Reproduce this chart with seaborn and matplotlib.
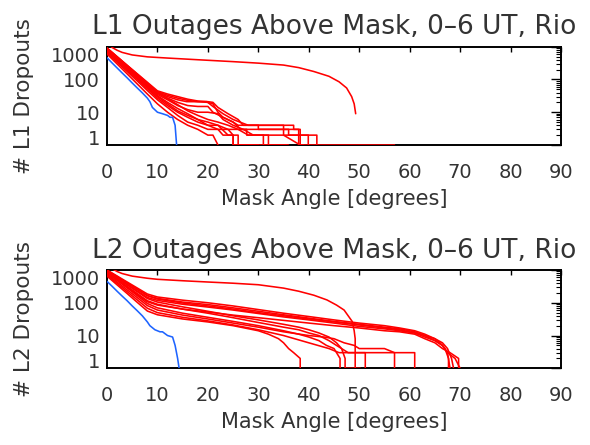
import numpy as np
import pandas as pd
import matplotlib
matplotlib.use("Agg")
import matplotlib.pyplot as plt
from matplotlib.ticker import FixedLocator, LogLocator, NullFormatter, FixedFormatter
import seaborn as sns

# ---------------- data: cumulative dropout counts above each mask angle ----------------
# L1 panel
l1_top_angle = [0, 1, 2, 3, 5, 8, 12, 18, 25, 30, 35, 38, 41, 44, 46, 47.5, 48.5, 49, 49.3]
l1_top_count = [1400, 950, 780, 670, 560, 490, 450, 400, 350, 315, 275, 230, 175, 125, 85, 55, 30, 18, 9]

l1_red_angles = [
    [0, 2, 4, 6, 8, 10, 12, 14, 16, 18, 20, 21, 22, 24, 26, 27, 30, 30, 36, 36, 41.6, 41.6, 57],
    [0, 2, 4, 6, 8, 10, 12, 14, 16, 18, 20, 21, 23, 25, 26.5, 38.3, 38.3, 40],
    [0, 2, 4, 6, 8, 10, 12, 14, 16, 18, 20, 22, 24, 27.7, 27.7, 32, 32, 36],
    [0, 2, 4, 6, 8, 10, 12, 14, 16, 18, 20, 22, 23, 25, 25, 28.7],
    [0, 2, 4, 6, 8, 10, 12, 14, 16, 18, 20, 22, 24, 26, 28, 31, 31, 35.7],
    [0, 2, 4, 6, 8, 10, 12, 14, 16, 18, 20, 21, 22],
    [0, 2, 4, 6, 8, 10, 12, 14, 16, 18, 20, 22, 23, 25, 27, 29, 39.9, 39.9, 41.6],
    [0, 2, 4, 6, 8, 10, 12, 14, 16, 18, 20, 22, 24, 26, 26, 32.4],
    [0, 2, 4, 6, 8, 10, 12, 14, 16, 18, 20, 21, 22, 23, 25, 26, 37, 37, 38, 38, 39],
    [0, 2, 4, 6, 8, 10, 12, 14, 16, 18, 20, 22, 24, 25, 25, 30],
    [0, 2, 4, 6, 8, 10, 12, 14, 15.8, 19.8, 21, 23, 25, 28, 35, 35, 38.3],
]
l1_red_counts = [
    [900, 494, 271, 149, 82, 45, 36, 30, 25, 22, 21, 20, 14, 9, 6, 4, 4, 3, 3, 2, 2, 1, 1],
    [850, 456, 245, 132, 71, 38, 27, 20, 16, 15, 15, 10, 7, 5, 3, 3, 1, 1],
    [750, 394, 207, 109, 57, 30, 18, 11, 8, 6, 4, 3, 3, 3, 2, 2, 1, 1],
    [650, 336, 174, 90, 46, 24, 14, 8, 5, 4, 3, 3, 2, 2, 1, 1],
    [900, 483, 259, 139, 74, 40, 26, 17, 11, 8, 6, 5, 4, 3, 2, 2, 1, 1],
    [600, 298, 148, 73, 36, 18, 10, 6, 4, 3, 2, 2, 1],
    [800, 428, 229, 122, 66, 35, 24, 16, 12, 10, 10, 9, 6, 4, 3, 2, 2, 1, 1],
    [700, 365, 191, 100, 52, 27, 16, 10, 7, 5, 4, 4, 2, 2, 1, 1],
    [920, 497, 268, 145, 78, 42, 33, 27, 23, 21, 20, 18, 10, 7, 5, 4, 4, 3, 3, 1, 1],
    [780, 412, 217, 115, 61, 32, 20, 13, 9, 6, 5, 4, 3, 2, 1, 1],
    [880, 474, 255, 137, 74, 40, 30, 24, 21, 21, 15, 9, 6, 4, 4, 2, 1],
]

l1_blue_angle = [0, 1, 2, 3, 4, 5, 6, 7, 8, 8.5, 9, 10, 11, 12, 12.5, 13, 13.5, 13.8]
l1_blue_count = [460, 320, 225, 158, 112, 78, 55, 39, 27, 21, 14, 10, 9, 8, 7, 7, 4, 1]

# L2 panel
l2_top_angle = [0, 1, 2, 3, 5, 8, 10, 15, 20, 25, 30, 35, 38, 41, 43.6, 45.5, 47, 48.6, 49, 49.2, 49.2]
l2_top_count = [1500, 1100, 900, 780, 650, 560, 520, 470, 430, 395, 355, 280, 225, 170, 122, 85, 60, 27, 14, 8, 1]

l2_red_angles = [
    [0, 2, 4, 6, 8, 10, 15, 20, 25, 30, 35, 40, 45, 50, 55, 58, 61, 63, 65, 66.5, 67.5, 68.3, 68.7],
    [0, 2, 4, 6, 8, 10, 15, 20, 25, 30, 35, 40, 45, 50, 55, 58, 61, 63, 65, 66.5, 67.5, 69, 70],
    [0, 2, 4, 6, 8, 10, 15, 20, 25, 30, 35, 40, 45, 50, 55, 58, 61, 63, 65, 66.5, 67.5, 68],
    [0, 2, 4, 6, 8, 10, 15, 20, 25, 30, 35, 40, 45, 50, 55, 58, 61, 63, 65, 66, 67, 67.7, 67.7],
    [0, 2, 4, 6, 8, 10, 15, 20, 25, 30, 35, 40, 45, 50, 55, 58, 61, 63, 65, 66.5, 68, 69.7, 69.7],
    [0, 2, 4, 6, 8, 10, 15, 20, 25, 30, 35, 40, 43, 45, 47, 49, 50, 55, 57, 61, 61],
    [0, 2, 4, 6, 8, 10, 15, 20, 25, 30, 35, 40, 44, 46, 57, 57],
    [0, 2, 4, 6, 8, 10, 15, 20, 25, 30, 32, 34, 35, 36, 37, 38.3, 38.3],
    [0, 2, 4, 6, 8, 10, 15, 20, 25, 30, 35, 38, 40, 42, 43.5, 45, 46.2, 46.2],
    [0, 2, 4, 6, 8, 10, 15, 20, 25, 30, 35, 38, 40, 42, 44, 45.5, 46.5, 47.2, 47.2, 50.2],
    [0, 2, 4, 6, 8, 10, 15, 20, 25, 30, 35, 38, 40, 42, 44, 45.5, 46.5, 47.8, 51.2, 51.2],
]
l2_red_counts = [
    [1000, 656, 430, 282, 185, 150, 120, 100, 80, 62, 48, 38, 30, 24, 20, 17, 14, 11, 8, 6, 4, 2, 1],
    [950, 613, 396, 256, 165, 136, 105, 88, 70, 55, 43, 34, 27, 22, 18, 16, 13, 10, 7, 5, 3, 2, 1],
    [900, 570, 361, 229, 145, 118, 90, 74, 60, 47, 37, 30, 24, 19, 16, 14, 12, 9, 7, 5, 3, 1],
    [980, 628, 402, 257, 165, 130, 98, 80, 64, 50, 40, 32, 26, 21, 17, 15, 12, 10, 8, 6, 4, 2, 1],
    [800, 485, 294, 178, 108, 85, 64, 52, 42, 35, 29, 24, 20, 17, 14, 13, 11, 8, 6, 4, 3, 2, 1],
    [750, 431, 248, 143, 82, 60, 42, 32, 24, 18, 13, 10, 9, 8, 6, 5, 4, 4, 3, 3, 1],
    [700, 391, 218, 122, 68, 50, 36, 28, 21, 15, 10, 6, 4, 3, 3, 1],
    [650, 352, 191, 103, 56, 43, 32, 26, 20, 14, 11, 8, 6, 4, 3, 2, 1],
    [850, 491, 284, 164, 95, 70, 48, 36, 27, 20, 14, 11, 9, 7, 5, 4, 2, 1],
    [880, 529, 318, 191, 115, 90, 64, 48, 35, 25, 18, 15, 12, 10, 7, 5, 4, 2, 1, 1],
    [920, 569, 352, 218, 135, 105, 75, 55, 40, 30, 22, 18, 15, 12, 9, 6, 4, 3, 3, 1],
]

l2_blue_angle = [0, 1, 2, 3, 4, 5, 6, 7, 8, 8.5, 9.5, 10.5, 11, 12, 13, 13.5, 14, 14.3]
l2_blue_count = [450, 320, 225, 160, 115, 80, 57, 40, 26, 20, 15, 13, 13, 10, 9, 5, 2, 1]

titles = ["L1 Outages Above Mask, 0\u20136 UT, Rio", "L2 Outages Above Mask, 0\u20136 UT, Rio"]
ylabels = ["# L1 Dropouts", "# L2 Dropouts"]
xlabel = "Mask Angle [degrees]"
x_ticks = [0, 10, 20, 30, 40, 50, 60, 70, 80, 90]
y_ticks = [1, 10, 100, 1000]
y_tick_labels = ["1", "10", "100", "1000"]

RED = "#ff0000"
BLUE = "#1e64ff"
TEXT = "#333333"


def build_frame(top_a, top_n, red_a, red_n, blue_a, blue_n):
    rows = []
    rows += [("top", "red", a, n) for a, n in zip(top_a, top_n)]
    for k, (aa, nn) in enumerate(zip(red_a, red_n)):
        rows += [(f"r{k}", "red", a, n) for a, n in zip(aa, nn)]
    rows += [("blue", "blue", a, n) for a, n in zip(blue_a, blue_n)]
    return pd.DataFrame(rows, columns=["curve", "kind", "angle", "count"])


frames = [
    build_frame(l1_top_angle, l1_top_count, l1_red_angles, l1_red_counts, l1_blue_angle, l1_blue_count),
    build_frame(l2_top_angle, l2_top_count, l2_red_angles, l2_red_counts, l2_blue_angle, l2_blue_count),
]

sns.set_style("white")
plt.rcParams["font.family"] = ["DejaVu Sans"]

fig = plt.figure(figsize=(5.9, 4.45), dpi=100)
W, H = 590.0, 445.0
axes = [
    fig.add_axes([107 / W, 1 - 145 / H, 454 / W, 98.3 / H]),
    fig.add_axes([107 / W, 1 - 368.3 / H, 454 / W, 98.3 / H]),
]

for ax, df, title, ylab in zip(axes, frames, titles, ylabels):
    sns.lineplot(data=df, x="angle", y="count", hue="kind", units="curve",
                 estimator=None, sort=False, hue_order=["red", "blue"],
                 palette={"red": RED, "blue": BLUE}, legend=False,
                 linewidth=1.15, ax=ax, zorder=3)
    ax.set_yscale("log")
    ax.set_xlim(0, 90)
    ax.set_ylim(1, 1000)

    ax.xaxis.set_major_locator(FixedLocator(x_ticks))
    ax.yaxis.set_major_locator(FixedLocator(y_ticks))
    ax.yaxis.set_major_formatter(FixedFormatter(y_tick_labels))
    ax.yaxis.set_minor_locator(LogLocator(base=10, subs=np.arange(2, 10)))
    ax.yaxis.set_minor_formatter(NullFormatter())

    ax.tick_params(axis="both", which="both", direction="in", top=True, right=True,
                   colors="black", labelcolor=TEXT)
    ax.tick_params(axis="x", which="major", length=3.5, width=1.0, pad=13, labelsize=14)
    ax.tick_params(axis="y", which="major", length=7, width=1.0, pad=5, labelsize=14)
    ax.tick_params(axis="y", which="minor", length=3.5, width=0.8)

    # keep the end labels of the y axis inside the axis height
    ylabels_objs = ax.get_yticklabels()
    ylabels_objs[0].set_verticalalignment("baseline")
    ylabels_objs[-1].set_verticalalignment("top")

    for s in ax.spines.values():
        s.set_color("black")
        s.set_linewidth(1.4)

    ax.set_title(title, fontsize=19, color=TEXT, pad=9)
    ax.set_xlabel(xlabel, fontsize=15, color=TEXT, labelpad=5)
    ax.set_ylabel(ylab, fontsize=15.5, color=TEXT, labelpad=12)
    ax.grid(False)

fig.savefig("out.png", dpi=100, facecolor="white")
